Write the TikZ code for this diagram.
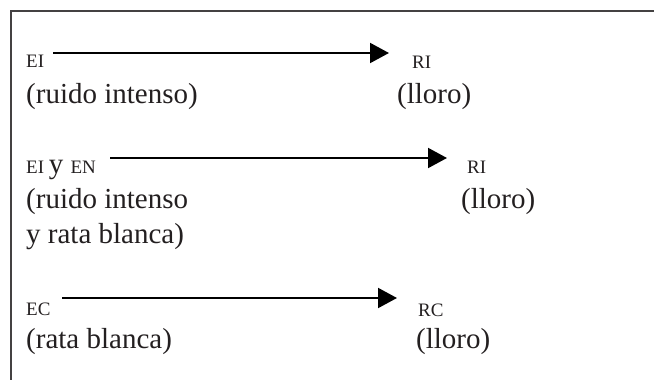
\documentclass[tikz,border=0pt]{standalone}
\usepackage{fontspec}
\setmainfont{Liberation Serif}
\usetikzlibrary{arrows.meta}
\definecolor{ink}{HTML}{231F20}
\tikzset{
  big/.style={anchor=base west, inner sep=0pt, text=ink, font=\fontsize{29}{36}\selectfont},
  small/.style={anchor=base west, inner sep=0pt, text=ink, font=\fontsize{19}{23}\selectfont},
  conn/.style={line width=2pt, black, -{Triangle[length=19pt,width=20pt]}},
  frame/.style={line width=1.6pt, ink!85}
}
\begin{document}
\begin{tikzpicture}[x=1pt,y=-1pt]
\useasboundingbox (0,0) rectangle (654,380);
\draw[frame] (11,380) -- (11,11) -- (654,11);
% row 1
\node[small] (ei1) at (26,67) {EI};
\node[big] (ri1txt) at (26,103) {(ruido intenso)};
\node[small] (ri1) at (412,68) {RI};
\node[big] (ll1) at (397,103) {(lloro)};
\coordinate (a1s) at (53,53);
\coordinate (a1e) at (389,53);
\draw[conn] (a1s) -- (a1e);
% row 2
\node[small] (ei2) at (26,173) {EI \fontsize{29}{36}\selectfont y \fontsize{19}{23}\selectfont EN};
\node[big] (ri2a) at (26,208) {(ruido intenso};
\node[big] (ri2b) at (26,243) {y rata blanca)};
\node[small] (ri2) at (467,173) {RI};
\node[big] (ll2) at (461,208) {(lloro)};
\coordinate (a2s) at (110,158);
\coordinate (a2e) at (447,158);
\draw[conn] (a2s) -- (a2e);
% row 3
\node[small] (ec) at (26,315) {EC};
\node[big] (rb) at (26,348) {(rata blanca)};
\node[small] (rc) at (418,316) {RC};
\node[big] (ll3) at (416,348) {(lloro)};
\coordinate (a3s) at (62,298);
\coordinate (a3e) at (397,298);
\draw[conn] (a3s) -- (a3e);
\end{tikzpicture}
\end{document}
